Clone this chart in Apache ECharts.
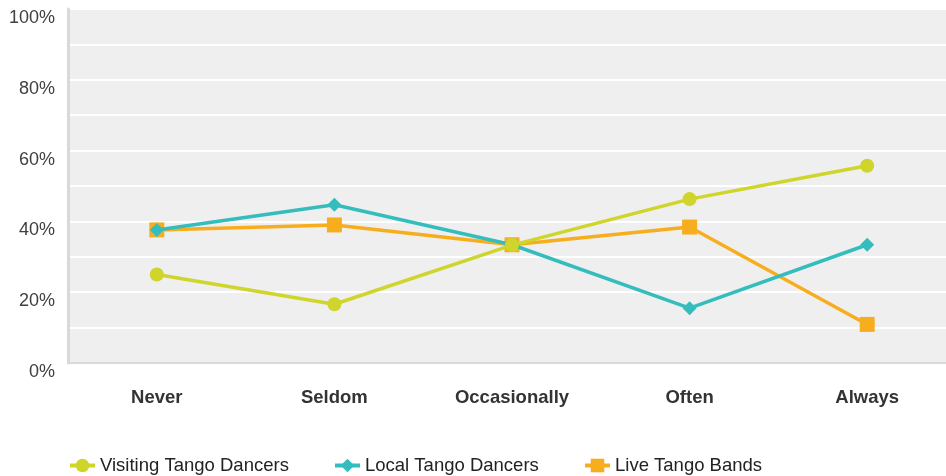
<!DOCTYPE html>
<html>
<head>
<meta charset="utf-8">
<script src="https://cdn.jsdelivr.net/npm/echarts@6/dist/echarts.min.js"></script>
<style>html,body{margin:0;padding:0;background:#fff;}#c{width:946px;height:476px;}</style>
</head>
<body>
<div id="c"></div>
<script>
const categories = ['Never', 'Seldom', 'Occasionally', 'Often', 'Always'];
const visiting = [25, 16.6, 33.3, 46.3, 55.7];
const local = [37.6, 44.7, 33.4, 15.5, 33.4];
const bands = [37.6, 39, 33.4, 38.4, 10.9];
const seriesNames = ['Visiting Tango Dancers', 'Local Tango Dancers', 'Live Tango Bands'];
const colors = ['#cfd52a', '#35bdbd', '#f7ae1e'];

const chart = echarts.init(document.getElementById('c'));
const font = 'Liberation Sans, Arial, sans-serif';
function legend(i, left) {
  return {
    data: [seriesNames[i]], left: left, top: 451, itemWidth: 25, itemHeight: 17, itemGap: 5,
    lineStyle: {width: 4},
    textStyle: {fontFamily: font, fontSize: 18.5, color: '#222'}
  };
}
chart.setOption({
  animation: false,
  color: colors,
  grid: {left: 68, width: 888, top: 9, bottom: 113, show: true, backgroundColor: '#efefef', borderWidth: 0,
         containLabel: false, outerBoundsMode: 'none'},
  legend: [legend(0, 63), legend(1, 328), legend(2, 578)],
  xAxis: {
    type: 'category', data: categories, boundaryGap: true,
    axisLine: {show: true, lineStyle: {color: '#d9d9d9', width: 2}},
    axisTick: {show: false},
    axisLabel: {fontFamily: font, fontSize: 18.5, fontWeight: 'bold', color: '#333', margin: 25}
  },
  yAxis: {
    type: 'value', min: 0, max: 100, interval: 10,
    axisLine: {show: true, lineStyle: {color: '#d9d9d9', width: 3}},
    axisTick: {show: false},
    splitLine: {show: true, lineStyle: {color: '#ffffff', width: 2}},
    axisLabel: {
      fontFamily: font, fontSize: 18, color: '#404040', margin: 13,
      verticalAlign: 'top',
      formatter: v => (v % 20 === 0 ? v + '%' : '')
    }
  },
  series: [
    {name: seriesNames[0], type: 'line', data: visiting, symbol: 'circle', symbolSize: 14,
     lineStyle: {width: 3.5}, itemStyle: {color: colors[0]}, z: 4},
    {name: seriesNames[1], type: 'line', data: local, symbol: 'diamond', symbolSize: 14,
     lineStyle: {width: 3.5}, itemStyle: {color: colors[1]}, z: 3},
    {name: seriesNames[2], type: 'line', data: bands, symbol: 'rect', symbolSize: 15,
     lineStyle: {width: 3.5}, itemStyle: {color: colors[2]}, z: 2}
  ]
});
</script>
</body>
</html>
